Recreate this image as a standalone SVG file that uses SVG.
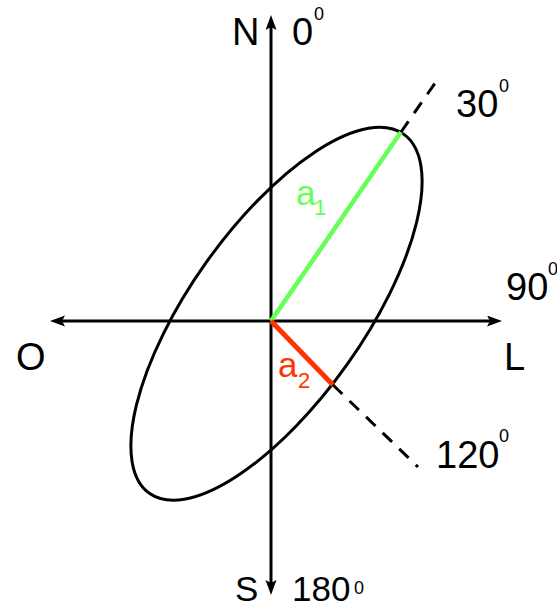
<svg xmlns="http://www.w3.org/2000/svg" width="557" height="609" viewBox="0 0 557 609">
  <style>
    .ax { stroke: #000; stroke-width: 3; fill: none; }
    .ell { stroke: #000; stroke-width: 3; fill: none; }
    .dash { stroke: #000; stroke-width: 3; fill: none; stroke-dasharray: 13 10; }
    .t { font-family: "Liberation Sans", Arial, sans-serif; font-size: 38px; fill: #000; }
    .sup { font-family: "Liberation Sans", Arial, sans-serif; font-size: 18px; fill: #000; }
    .g { fill: #66ff55; }
    .r { fill: #ff3300; }
  </style>
  <defs>
    <marker id="arr" markerUnits="userSpaceOnUse" markerWidth="16" markerHeight="12" refX="7" refY="5.5" orient="auto-start-reverse">
      <path d="M0,0 L15,5.5 L0,11 L3,5.5 z" fill="#000"/>
    </marker>
  </defs>
  <rect width="557" height="609" fill="#fff"/>

  <g id="connectors">
    <line class="ax" x1="271" y1="23" x2="271" y2="587" marker-start="url(#arr)" marker-end="url(#arr)"/>
    <line class="ax" x1="58" y1="321" x2="494" y2="321" marker-start="url(#arr)" marker-end="url(#arr)"/>
  </g>

  <g id="ellipse">
    <ellipse class="ell" cx="0" cy="0" rx="220" ry="87" transform="translate(276.5 313.7) rotate(-54.7)"/>
  </g>

  <g id="axes-a">
    <line x1="271" y1="321" x2="401" y2="132" stroke="#66ff55" stroke-width="4.5"/>
    <line x1="271" y1="321" x2="333" y2="385" stroke="#ff3300" stroke-width="5"/>
    <line class="dash" x1="401" y1="132" x2="440" y2="76"/>
    <line class="dash" x1="333" y1="385" x2="418" y2="467"/>
  </g>

  <g id="label-N">
    <text class="t" x="232" y="45">N</text>
  </g>
  <g id="label-0">
    <text class="t" x="292" y="45">0</text>
    <text class="sup" x="314" y="20">0</text>
  </g>
  <g id="label-30">
    <text class="t" x="456" y="117">30</text>
    <text class="sup" x="499" y="92">0</text>
  </g>
  <g id="label-90">
    <text class="t" x="506" y="300">90</text>
    <text class="sup" x="548" y="275">0</text>
  </g>
  <g id="label-L">
    <text class="t" x="504" y="370">L</text>
  </g>
  <g id="label-O">
    <text class="t" x="16" y="370">O</text>
  </g>
  <g id="label-a1">
    <text class="t g" x="296" y="205" style="font-size:35px">a</text>
    <text class="sup g" x="314" y="215" style="font-size:22px">1</text>
  </g>
  <g id="label-a2">
    <text class="t r" x="278" y="377" style="font-size:35px">a</text>
    <text class="sup r" x="298" y="388" style="font-size:22px">2</text>
  </g>
  <g id="label-120">
    <text class="t" x="436" y="468">120</text>
    <text class="sup" x="499" y="442">0</text>
  </g>
  <g id="label-S">
    <text class="t" x="235" y="601" style="font-size:35px">S</text>
  </g>
  <g id="label-180">
    <text class="t" x="292" y="601" style="font-size:35px">180</text>
    <text class="sup" x="354" y="594">0</text>
  </g>
</svg>
